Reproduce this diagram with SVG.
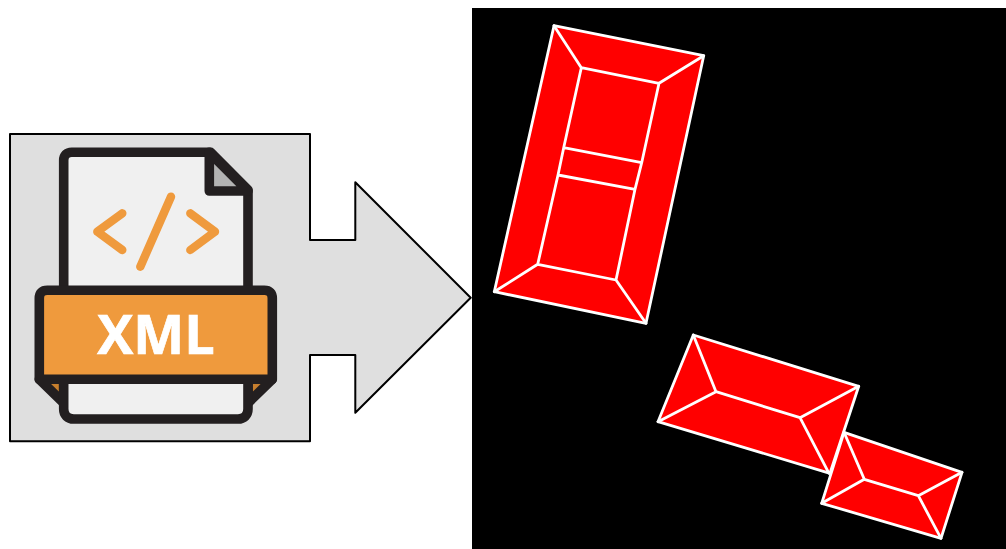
<svg xmlns="http://www.w3.org/2000/svg" width="1006" height="549" viewBox="0 0 1006 549">
<style>
.roof{fill:#f00;stroke:#fff;stroke-width:2.8;stroke-linejoin:round;stroke-linecap:round}
.line{fill:none;stroke:#fff;stroke-width:2.8;stroke-linecap:round;stroke-linejoin:round}
.ink{stroke:#231f20;stroke-width:9.6;stroke-linejoin:round;stroke-linecap:round}
.code{fill:none;stroke:#ef9a3d;stroke-width:8.4;stroke-linecap:round;stroke-linejoin:round}
</style>
<rect width="1006" height="549" fill="#fff"/>
<g id="arrow">
<path d="M10 134H310V240H355.3V182.3L470.7 297.7L355.3 412.7V355H310V441.3H10Z" fill="#dfdfdf" stroke="#000" stroke-width="2" stroke-linejoin="round"/>
</g>
<g id="xml-icon">
<path class="ink" d="M39.3 379.3L63.7 403V290H248V403L272.3 379.3Z" fill="#c77f2e"/>
<path class="ink" d="M71.7 152.3H210.7L248 190V409C248 415 244 419 238 419H73.7C67.7 419 63.7 415 63.7 409V160.3C63.7 155.3 66.7 152.3 71.7 152.3Z" fill="#f0f0f0"/>
<path class="ink" d="M209.3 152.3V191H248Z" fill="#b3b3b3"/>
<path class="ink" d="M47.3 290.3H264.3Q272.3 290.3 272.3 298.3V379.3H39.3V298.3Q39.3 290.3 47.3 290.3Z" fill="#ef9a3d"/>
<path class="code" d="M122.3 213.3L97.3 231.7L122.3 250"/>
<path class="code" d="M190.3 213.3L215 231.7L190.3 250"/>
<path class="code" d="M171 196.7L140.3 266.7"/>
<text x="156" y="354.3" text-anchor="middle" font-family="'Open Sans',sans-serif" font-weight="700" font-size="54" fill="#fff" stroke="#fff" stroke-width="0.7">XML</text>
</g>
<rect id="panel" x="472" y="8" width="534" height="541" fill="#000"/>
<g id="roof-1">
<path class="roof" d="M554 25.7L703.7 55.7L646 323.3L494.3 291.7Z"/>
<path class="line" d="M581.3 67.7L659 83.3L641.7 162.7L563.7 147.7ZM558 175L635 189.3L616 280L537.7 264.3ZM563.7 147.7L558 175M641.7 162.7L635 189.3M554 25.7L581.3 67.7M703.7 55.7L659 83.3M646 323.3L616 280M494.3 291.7L537.7 264.3"/>
</g>
<g id="roof-2">
<path class="roof" d="M693.3 335L858.7 386.3L830 473.3L658 421.7Z"/>
<path class="line" d="M658 421.7L716 391.7L800 417.7L858.7 386.3M693.3 335L716 391.7M800 417.7L829 473.3"/>
</g>
<g id="roof-3">
<path class="roof" d="M844 432.3L962 472.3L941 538.3L821.7 503.3Z"/>
<path class="line" d="M821.7 503.3L864.3 479.3L918.3 495.7L962 472.3M844 432.3L864.3 479.3M918.3 495.7L941 538.3"/>
</g>
</svg>
